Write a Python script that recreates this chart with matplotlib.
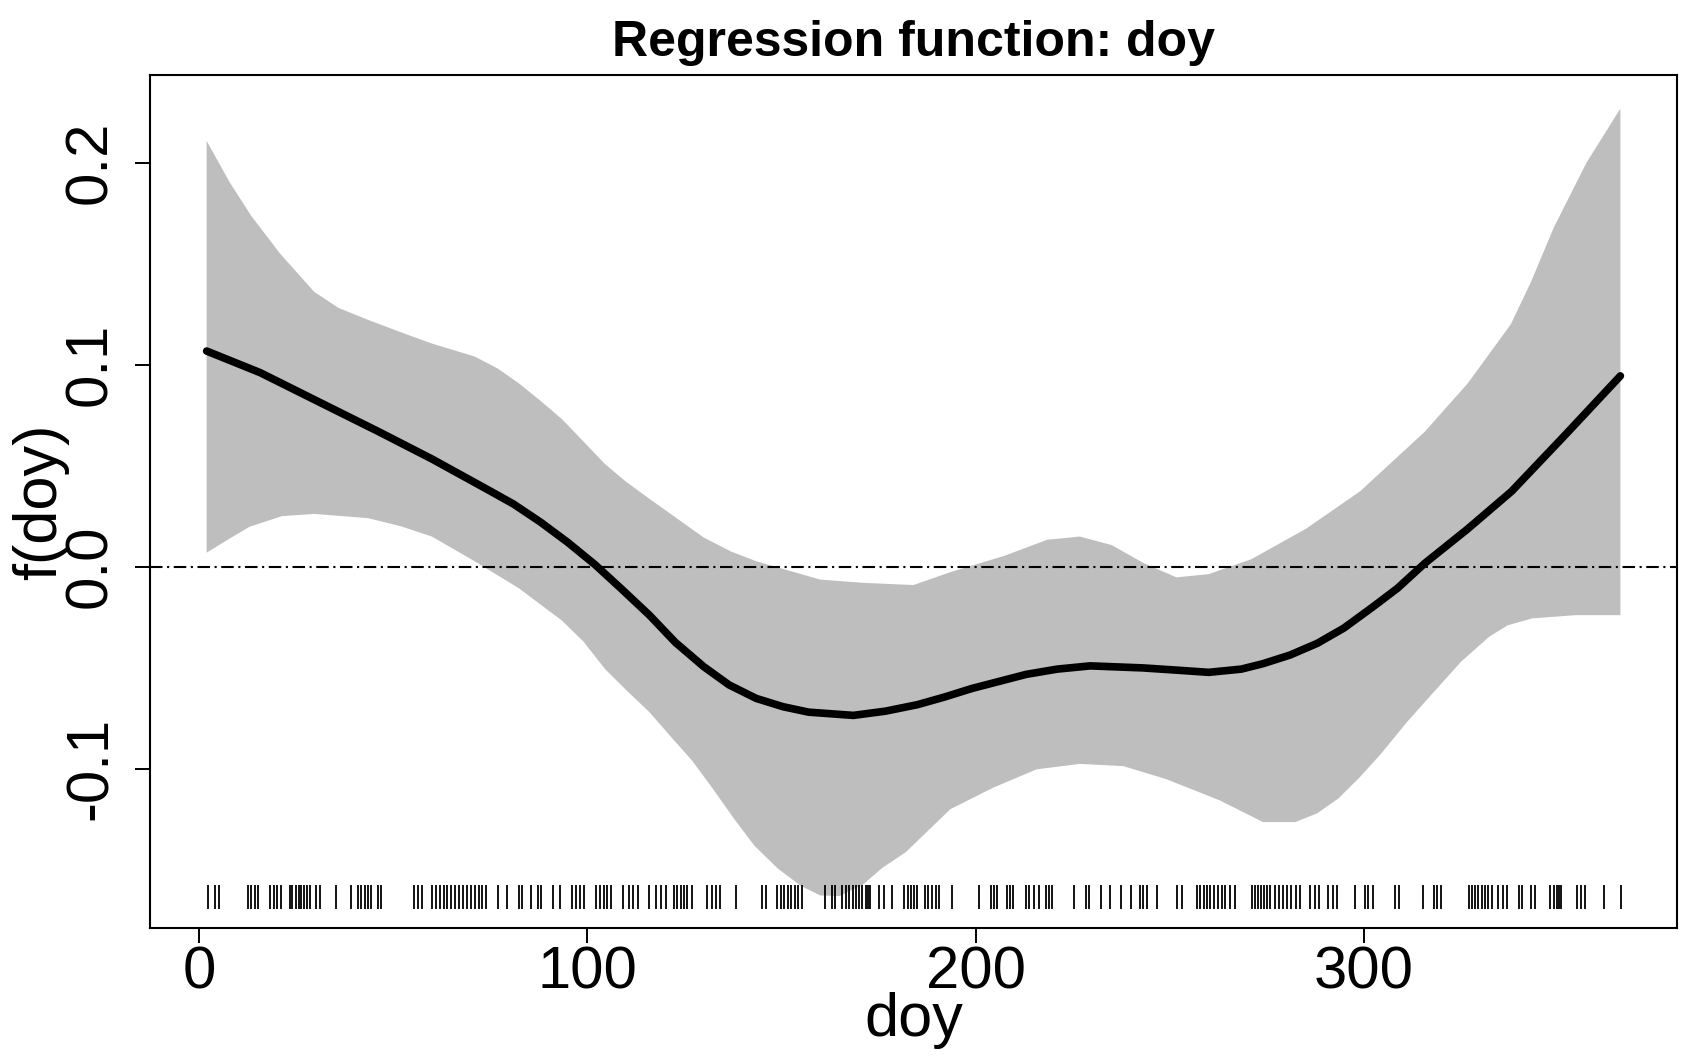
import numpy as np
import matplotlib
matplotlib.use("Agg")
import matplotlib.pyplot as plt

plt.rcParams['font.family'] = ['Liberation Sans', 'DejaVu Sans']

# fitted smooth f(doy)
fit_doy = [2, 15.8, 32.5, 46.4, 60, 74, 81, 88, 95, 102, 108.8, 116, 122.7, 130, 136.5,
           143.5, 150.4, 157, 168.5, 176.8, 185, 192, 199, 213, 221, 229.5, 243, 251.7,
           260, 268.4, 274, 281, 288, 294.8, 302, 308.6, 315.6, 326.7, 338, 351.7, 366]
fit_val = [0.1067, 0.096, 0.080, 0.0667, 0.0533, 0.0385, 0.031, 0.022, 0.012, 0.001,
           -0.011, -0.024, -0.0375, -0.0495, -0.0585, -0.0652, -0.0693, -0.072, -0.0736,
           -0.0715, -0.0683, -0.0645, -0.0603, -0.0533, -0.0507, -0.0491, -0.0501, -0.0512,
           -0.0523, -0.0507, -0.048, -0.0437, -0.0379, -0.0304, -0.0203, -0.0107, 0.0016,
           0.0187, 0.0373, 0.065, 0.0944]

# confidence band
up_doy = [2, 8, 13.6, 21, 29.7, 36, 43.6, 52, 60, 71, 77, 82.4, 88, 93.5, 99, 104.6,
          110, 116, 123, 130, 137, 143.5, 152, 160, 171, 184, 193.5, 207.3, 218.4,
          226.8, 235, 243.4, 251.7, 260, 271, 285, 299, 315.6, 326.7, 337.8, 343,
          348.9, 357.3, 366]
up_val = [0.2107, 0.19, 0.1733, 0.1547, 0.136, 0.128, 0.1221, 0.116, 0.1104, 0.104,
          0.098, 0.0907, 0.082, 0.073, 0.062, 0.0507, 0.042, 0.0336, 0.024, 0.0144,
          0.0075, 0.0027, -0.002, -0.0064, -0.008, -0.0091, -0.0027, 0.0053, 0.0133,
          0.0149, 0.0107, 0.0016, -0.0053, -0.0037, 0.0037, 0.0187, 0.0373, 0.0667,
          0.0907, 0.12, 0.141, 0.168, 0.2, 0.2267]
lo_doy = [2, 8, 13, 21.4, 29.7, 43.6, 52, 60, 71, 82.4, 93.5, 99, 104.6, 110, 116, 121,
          127, 132, 138, 143, 149, 155, 160, 165, 171, 176, 182, 193.5, 204.6, 215.7,
          226.8, 238, 249, 262.9, 274, 282.3, 288, 293.4, 299, 304.5, 311, 318.3,
          325, 332.2, 337, 343.3, 354.4, 366]
lo_val = [0.0069, 0.014, 0.0197, 0.025, 0.0261, 0.024, 0.02, 0.0149, 0.0027, -0.0107,
          -0.0267, -0.037, -0.0507, -0.061, -0.072, -0.083, -0.096, -0.109, -0.1253,
          -0.138, -0.1493, -0.158, -0.1627, -0.163, -0.1573, -0.149, -0.1413, -0.12,
          -0.1093, -0.1003, -0.0976, -0.0987, -0.1051, -0.1157, -0.1264, -0.1264,
          -0.122, -0.1147, -0.104, -0.0923, -0.077, -0.0613, -0.047, -0.0347, -0.029,
          -0.0256, -0.024, -0.024]

# observed days (rug)
rug_doy = [2.4, 4.1, 5.2, 12.7, 13.5, 14.4, 15.2, 18.4, 19.3, 20.2, 21.1, 23.4, 24.1,
           24.9, 25.7, 26.4, 27.1, 27.8, 28.5, 30.1, 31.1, 35.2, 39.1, 41.0, 41.8,
           42.7, 43.5, 44.4, 46.1, 47.0, 55.5, 56.4, 57.5,
           60, 61, 62, 63, 64, 65, 66, 67, 68, 69, 70, 71, 72, 73, 74,
           77.0, 79.4, 82.3, 83.1, 85.5, 87.2, 88.1, 91.1, 93.1,
           96.2, 97.2, 98.2, 99.2, 102.2, 103.2, 104.2, 105.2, 106.1, 109.1,
           110.8, 111.9, 113, 116, 117.7, 119, 120.2,
           122.3, 123.2, 124.1, 124.9, 125.8, 126.9, 130.9, 132, 133.1, 134.1, 138.2,
           145.1, 145.9, 148.9, 149.8, 150.7, 151.6, 152.5, 153.4, 154.3, 155.2,
           161.2, 163.1, 163.9, 165.7, 166.6, 167.4, 168.3, 169.1, 170, 170.8, 171.7,
           172.2, 172.7, 175.1, 176.4, 178.5,
           181.6, 182.5, 183.3, 184.1, 185, 186.9, 187.8, 188.8, 189.7, 190.6, 194,
           200.9, 203.9, 204.7, 205.6, 208, 208.8, 209.7, 212.9, 213.7, 215, 216.3,
           218, 218.9, 219.7, 225.3, 228.3, 229.2, 232.2, 234.7, 237.3, 239.9,
           242.4, 243.2, 244.1, 246.7, 251.8, 253.1,
           257, 257.8, 258.7, 259.5, 260.4, 261.3, 262.5, 263.4, 264.3, 265.5, 266.8,
           271.1, 271.9, 272.6, 273.4, 274.2, 275, 275.8, 277.1,
           278, 279.1, 280.2, 281.3, 282.4, 283.5, 286.1, 287.4, 288.3,
           290.8, 291.9, 293, 297.7, 300.3, 301.1, 302.2,
           308, 309.1, 315.1, 317.9, 318.8, 319.8,
           326.9, 327.7, 328.6, 329.4, 330.3, 331.2, 332, 332.9, 334.6, 335.7, 336.8,
           339.8, 340.6, 343, 344.1, 347.9, 348.8, 349.6, 350.1, 350.7,
           354.8, 355.8, 356.9, 361.8, 366.1]

x_ticks = [0, 100, 200, 300]
y_ticks = [-0.1, 0.0, 0.1, 0.2]


fig = plt.figure(figsize=(16.92, 10.58), dpi=100)
ax = fig.add_axes([0.0887, 0.1229, 0.9024, 0.8062])

# band as a polygon: upper edge left->right, lower edge right->left
poly_x = list(up_doy) + list(lo_doy[::-1])
poly_y = list(up_val) + list(lo_val[::-1])
ax.fill(poly_x, poly_y, color='#bebebe', lw=0)

ax.axhline(0, color='black', lw=1.5, linestyle=(0, (6, 2.2, 1, 2.2)))
ax.plot(fit_doy, fit_val, color='black', lw=5.5, solid_capstyle='round',
        solid_joinstyle='round')
ax.vlines(rug_doy, -0.1695, -0.1575, color='black', lw=1.3)

ax.set_xlim(-12.56, 380.56)
ax.set_ylim(-0.1788, 0.2433)
ax.set_xticks(x_ticks)
ax.set_xticklabels([str(t) for t in x_ticks])
ax.set_yticks(y_ticks)
ax.set_yticklabels(['%.1f' % t for t in y_ticks], rotation=90, va='center')

ax.tick_params(axis='both', direction='out', length=10.8, width=1.4, labelsize=43)
ax.tick_params(axis='x', pad=2)
ax.tick_params(axis='y', pad=12)
for s in ax.spines.values():
    s.set_linewidth(1.5)

ax.set_title('Regression function: doy', fontsize=36, fontweight='bold', pad=14)
ax.set_xlabel('doy', fontsize=44, labelpad=-6)
ax.set_ylabel('f(doy)', fontsize=44, labelpad=-4)

fig.savefig('out.png', dpi=100)
